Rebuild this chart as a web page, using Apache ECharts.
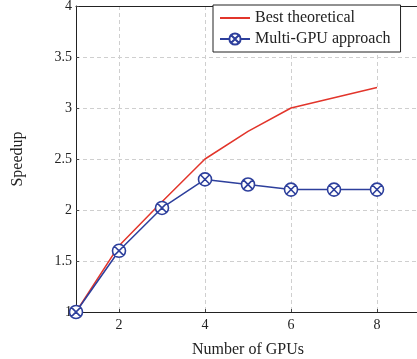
<!DOCTYPE html>
<html>
<head>
<meta charset="utf-8">
<script src="https://cdn.jsdelivr.net/npm/echarts@6/dist/echarts.min.js"></script>
<style>
  html, body { margin: 0; padding: 0; background: #fff; }
  #chart { width: 417px; height: 359px; }
</style>
</head>
<body>
<div id="chart"></div>
<script>
// data
const gpus = [1, 2, 3, 4, 5, 6, 7, 8];
const bestTheoretical = [1, 1.65, 2.08, 2.5, 2.77, 3.0, 3.1, 3.2];
const multiGpu = [1, 1.6, 2.02, 2.3, 2.25, 2.2, 2.2, 2.2];
const xTicks = [2, 4, 6, 8];

const font = 'Liberation Serif';
const otimes = 'path://M0,-10A10,10 0 1 1 0,10A10,10 0 1 1 0,-10Z M-7.07,-7.07L7.07,7.07M7.07,-7.07L-7.07,7.07';

const chart = echarts.init(document.getElementById('chart'));
const dashed = { show: true, lineStyle: { color: '#cfcfcf', type: [4, 3], width: 1 } };

chart.setOption({
  animation: false,
  textStyle: { fontFamily: font },
  grid: {
    left: 76, top: 6, bottom: 47, right: -3,
    outerBoundsMode: 'none',
    containLabel: false,
    show: false
  },
  legend: {
    orient: 'vertical',
    left: 213, top: 5,
    padding: [5, 10, 5, 6],
    itemGap: 5,
    itemWidth: 30, itemHeight: 14,
    borderColor: '#222', borderWidth: 1,
    backgroundColor: '#fff',
    textStyle: { fontFamily: font, fontSize: 16, color: '#222' },
    data: [
      { name: 'Best theoretical', itemStyle: { opacity: 0 } },
      'Multi-GPU approach'
    ]
  },
  xAxis: [
    {
      type: 'value',
      min: 1, max: 9,
      name: 'Number of GPUs',
      nameLocation: 'middle',
      nameGap: 30,
      nameTextStyle: { fontFamily: font, fontSize: 16, color: '#222' },
      axisLine: { lineStyle: { color: '#222' } },
      axisTick: { show: true, inside: true, length: 3, customValues: xTicks, lineStyle: { color: '#444' } },
      axisLabel: { customValues: xTicks, fontFamily: font, fontSize: 14, color: '#222', margin: 6 },
      splitLine: dashed
    },
    {
      // top frame line only
      type: 'value',
      position: 'top',
      min: 1, max: 9,
      axisLine: { show: true, lineStyle: { color: '#222' } },
      axisTick: { show: false },
      axisLabel: { show: false },
      splitLine: { show: false }
    }
  ],
  yAxis: {
    type: 'value',
    min: 1, max: 4, interval: 0.5,
    name: 'Speedup',
    nameLocation: 'middle',
    nameGap: 50,
    nameTextStyle: { fontFamily: font, fontSize: 16, color: '#222' },
    axisLine: { show: true, lineStyle: { color: '#222' } },
    axisTick: { show: true, inside: true, length: 3, lineStyle: { color: '#444' } },
    axisLabel: { fontFamily: font, fontSize: 14, color: '#222', margin: 4 },
    splitLine: dashed
  },
  series: [
    {
      name: 'Best theoretical',
      type: 'line',
      symbol: 'circle',
      symbolSize: 0,
      showSymbol: false,
      lineStyle: { color: '#e2352b', width: 1.5 },
      itemStyle: { color: '#e2352b' },
      data: gpus.map((g, i) => [g, bestTheoretical[i]])
    },
    {
      name: 'Multi-GPU approach',
      type: 'line',
      symbol: otimes,
      symbolSize: 13,
      lineStyle: { color: '#2d3f9c', width: 1.5 },
      itemStyle: { color: '#fff', borderColor: '#2d3f9c', borderWidth: 1.6 },
      z: 3,
      data: gpus.map((g, i) => [g, multiGpu[i]])
    }
  ]
});
</script>
</body>
</html>
